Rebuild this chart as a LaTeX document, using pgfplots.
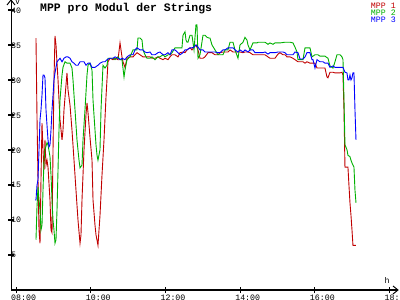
\documentclass[border=0pt]{standalone}
\usepackage{pgfplots}
\pgfplotsset{compat=1.18}
\usepackage{fontspec}
\setmonofont{Liberation Mono}
\definecolor{mppred}{RGB}{192,0,0}
\definecolor{mppgreen}{RGB}{0,176,0}
\definecolor{mppblue}{RGB}{0,0,255}
\definecolor{axk}{RGB}{2,2,2}
\begin{document}
\begin{tikzpicture}
\useasboundingbox (0,0) rectangle (400bp,300bp);
\begin{axis}[
  at={(11bp,10bp)}, anchor=south west,
  scale only axis, width=387bp, height=290bp,
  xmin=7.866, xmax=18.228, ymin=0, ymax=41.55,
  axis lines=left,
  axis line style={draw=axk, line width=1bp, -},
  xtick={8,10,12,14,16,18},
  xticklabels={08:00,10:00,12:00,14:00,16:00,18:00},
  ytick={5,10,15,20,25,30,35,40},
  tick align=center, major tick length=6bp,
  tick style={draw=axk, line width=1bp},
  /pgf/number format/assume math mode=true,
  tick label style={font=\ttfamily\fontsize{8.3}{8.3}\selectfont, inner sep=1bp},
  xticklabel style={anchor=north west, xshift=-6bp, yshift=-1bp},
  yticklabel style={anchor=west, xshift=2bp},
  every axis plot/.append style={line width=0.9bp, no markers},
]
\addplot[mppred] table {
8.535 36.1
8.562 24.8
8.589 15.8
8.616 8.6
8.643 6.7
8.669 15.8
8.696 23.9
8.723 20.1
8.750 17.2
8.776 21.5
8.803 17.9
8.830 18.6
8.857 17.6
8.910 12.9
8.937 8.6
8.964 8.2
8.991 20.1
9.017 30.1
9.044 36.4
9.071 35.1
9.098 32.5
9.125 30.1
9.178 24.4
9.232 21.5
9.258 22.9
9.285 25.8
9.339 29.4
9.365 31.1
9.392 28.7
9.446 26.5
9.499 22.9
9.553 18.6
9.606 14.3
9.660 10.0
9.714 6.7
9.740 7.9
9.767 12.9
9.821 20.1
9.874 25.1
9.901 26.8
9.928 25.4
9.981 21.9
10.035 18.6
10.062 12.9
10.115 9.3
10.142 7.9
10.195 6.4
10.249 10.7
10.303 16.5
10.356 21.5
10.410 27.7
10.463 32.7
10.517 33.2
10.597 33.0
10.651 33.2
10.731 33.0
10.785 35.4
10.838 33.4
10.865 32.7
10.918 31.9
10.972 33.2
11.052 33.4
11.133 33.4
11.186 33.7
11.240 34.0
11.320 33.7
11.400 33.4
11.507 33.4
11.588 33.4
11.641 33.2
11.722 33.2
11.802 33.4
11.855 33.2
11.936 33.0
11.989 33.2
12.070 33.0
12.123 33.4
12.177 33.7
12.257 33.7
12.337 33.4
12.391 34.0
12.471 34.1
12.525 34.0
12.578 34.4
12.659 34.7
12.712 34.4
12.766 34.8
12.819 35.1
12.873 34.4
12.926 33.2
13.007 33.2
13.060 33.4
13.141 34.0
13.194 34.0
13.248 34.0
13.328 33.7
13.408 33.7
13.462 34.0
13.542 34.1
13.596 34.1
13.676 34.1
13.730 34.4
13.810 34.1
13.864 34.1
13.944 34.1
13.997 34.1
14.078 34.0
14.131 34.1
14.212 34.1
14.265 34.0
14.345 33.7
14.399 33.7
14.479 33.7
14.533 33.7
14.613 33.7
14.667 33.7
14.747 33.4
14.801 33.2
14.881 33.2
14.934 33.2
15.015 33.8
15.068 34.0
15.149 33.7
15.202 33.7
15.256 33.4
15.336 33.4
15.416 33.2
15.470 33.0
15.550 32.7
15.604 32.7
15.684 32.7
15.738 32.5
15.791 32.7
15.871 32.5
15.925 32.5
16.005 32.5
16.059 31.8
16.139 31.8
16.193 31.8
16.273 31.8
16.327 30.5
16.353 30.4
16.407 31.2
16.487 31.2
16.541 31.1
16.594 31.1
16.675 31.1
16.728 31.2
16.755 30.8
16.782 25.8
16.808 17.6
16.862 17.6
16.888 17.6
16.915 15.0
16.942 12.5
16.969 10.7
16.996 8.6
17.022 6.4
17.103 6.4
};
\addplot[mppgreen] table {
8.535 7.2
8.562 11.9
8.589 14.8
8.616 12.9
8.643 11.5
8.669 8.6
8.696 9.3
8.723 14.3
8.750 18.6
8.776 20.1
8.830 21.1
8.857 20.8
8.910 19.1
8.937 16.5
8.964 12.9
8.991 10.0
9.017 8.6
9.044 6.7
9.071 7.2
9.098 11.5
9.125 17.2
9.151 22.9
9.178 27.2
9.232 30.8
9.258 31.9
9.312 32.7
9.365 32.5
9.446 32.5
9.499 31.8
9.526 30.1
9.580 25.8
9.633 21.5
9.687 18.6
9.714 17.5
9.767 17.9
9.794 21.5
9.847 25.8
9.901 30.8
9.928 32.2
9.981 32.5
10.035 31.5
10.062 27.2
10.115 22.9
10.142 20.8
10.169 19.3
10.195 18.6
10.249 20.1
10.276 25.8
10.329 32.2
10.383 31.8
10.436 32.2
10.463 33.2
10.517 33.2
10.597 33.2
10.651 33.0
10.731 33.4
10.785 33.0
10.838 33.0
10.892 30.5
10.918 31.5
10.972 33.0
11.052 33.4
11.133 34.4
11.240 34.4
11.266 36.1
11.320 36.1
11.374 35.8
11.400 34.4
11.454 33.7
11.507 33.2
11.588 33.2
11.641 33.4
11.722 33.0
11.802 33.4
11.855 33.4
11.936 33.7
11.989 33.4
12.070 33.7
12.123 33.7
12.177 34.0
12.257 34.7
12.337 34.7
12.391 34.7
12.444 34.7
12.471 36.5
12.525 37.0
12.552 35.8
12.578 35.5
12.605 35.5
12.659 36.5
12.712 36.5
12.766 34.4
12.819 38.0
12.846 38.0
12.873 33.2
12.926 33.7
13.007 36.5
13.060 36.5
13.114 36.2
13.167 36.1
13.194 36.1
13.248 35.1
13.328 34.4
13.408 33.7
13.462 33.7
13.542 33.7
13.596 34.4
13.676 34.4
13.730 35.5
13.810 35.5
13.864 34.4
13.944 33.2
13.997 35.1
14.078 35.5
14.131 36.2
14.185 35.8
14.212 35.1
14.265 34.4
14.345 35.4
14.453 35.4
14.479 35.5
14.667 35.5
14.747 35.2
14.801 35.4
14.881 35.2
14.934 35.4
15.068 35.4
15.202 35.5
15.336 35.5
15.416 35.4
15.470 34.8
15.523 34.1
15.550 33.0
15.684 33.0
15.738 34.7
15.871 34.7
15.925 33.4
16.005 33.7
16.086 33.7
16.139 33.5
16.273 33.5
16.353 33.2
16.407 32.1
16.487 31.8
16.541 32.7
16.594 33.7
16.675 33.7
16.728 33.4
16.755 33.0
16.782 27.2
16.808 20.8
16.862 20.1
16.888 19.3
16.942 19.1
16.969 18.6
16.996 18.2
17.049 17.6
17.076 14.3
17.103 12.5
};
\addplot[mppblue] table {
8.509 12.9
8.535 12.9
8.562 15.0
8.589 15.8
8.616 20.1
8.643 24.4
8.669 25.8
8.696 27.9
8.723 30.8
8.750 30.8
8.776 30.4
8.803 25.8
8.830 23.6
8.857 21.5
8.884 20.5
8.910 20.8
8.937 22.9
8.964 25.8
8.991 27.9
9.017 30.1
9.044 31.1
9.098 32.7
9.178 33.2
9.232 32.7
9.285 33.2
9.339 33.4
9.392 33.4
9.446 33.2
9.499 32.7
9.553 32.5
9.606 32.2
9.660 32.2
9.714 32.7
9.767 32.7
9.821 32.7
9.874 32.2
9.928 32.5
9.981 32.5
10.035 31.9
10.115 31.9
10.195 32.2
10.249 32.5
10.329 32.7
10.383 32.7
10.436 33.0
10.517 33.2
10.597 33.2
10.651 33.4
10.731 33.2
10.785 33.0
10.838 33.2
10.918 33.0
10.972 33.4
11.052 33.7
11.133 33.7
11.186 34.4
11.240 34.7
11.320 34.4
11.400 34.4
11.454 34.1
11.507 34.0
11.588 34.1
11.641 33.7
11.722 33.7
11.802 34.0
11.855 34.1
11.936 33.7
11.989 33.7
12.070 34.0
12.123 33.7
12.177 34.4
12.257 34.4
12.337 34.0
12.391 33.7
12.471 34.0
12.525 34.4
12.578 34.4
12.659 34.7
12.712 34.7
12.766 34.8
12.819 35.1
12.873 34.8
12.926 34.4
13.007 34.4
13.060 34.1
13.141 34.1
13.194 34.1
13.328 34.1
13.408 34.0
13.462 34.0
13.542 34.4
13.596 34.4
13.676 34.7
13.730 34.7
13.810 34.7
13.864 34.4
13.944 34.1
13.997 34.4
14.078 34.1
14.131 34.4
14.212 34.1
14.265 34.4
14.345 34.4
14.399 34.0
14.479 34.0
14.533 34.0
14.613 34.0
14.667 34.1
14.747 33.8
14.801 34.0
14.881 34.0
14.934 34.0
15.015 34.1
15.068 34.1
15.149 34.1
15.202 34.0
15.256 33.7
15.336 33.7
15.416 33.7
15.470 34.1
15.550 34.0
15.604 33.1
15.684 33.1
15.738 33.4
15.791 34.0
15.871 34.0
15.925 33.0
15.952 33.0
16.005 31.8
16.059 33.0
16.139 32.7
16.220 32.7
16.273 32.5
16.353 32.5
16.407 31.9
16.487 32.1
16.541 31.9
16.594 31.9
16.675 31.9
16.755 31.9
16.808 31.2
16.862 31.1
16.888 30.1
16.915 30.1
16.942 30.8
16.969 30.1
16.996 30.4
17.022 31.1
17.049 31.1
17.076 25.8
17.103 21.5
};
\node[anchor=north west, inner sep=0, font=\ttfamily\fontsize{8.3}{8.3}\selectfont] at (rel axis cs:0,1) [xshift=4bp, yshift=1.5bp] {V};
\node[anchor=south, inner sep=0, font=\ttfamily\fontsize{8.3}{8.3}\selectfont] at (rel axis cs:0.9716,0) [yshift=6bp] {h};
\end{axis}
\draw[axk, line width=1bp] (11bp,10bp) -- (398bp,10bp);
\draw[axk, line width=1bp] (11bp,10bp) -- (11bp,300bp);
\draw[axk, line width=1bp] (393bp,14bp) -- (398bp,10bp) -- (393bp,6bp);
\draw[axk, line width=1bp] (7bp,295bp) -- (11bp,300bp) -- (15bp,295bp);
\foreach \yy in {45,80,115,150,185,220,255,290}{
  \draw[axk, line width=1bp] (8bp,\yy bp) -- (14bp,\yy bp);
}
\foreach \xx in {16,90.7,165.4,240.1,314.8,389.5}{
  \draw[axk, line width=1bp] (\xx bp,7bp) -- (\xx bp,13bp);
}
\node[anchor=west, inner sep=0, font=\ttfamily\bfseries\fontsize{11.5}{11.5}\selectfont] at (40bp,291.5bp) {MPP pro Modul der Strings};
\node[anchor=north east, inner sep=0, text=mppred, font=\ttfamily\fontsize{8.3}{8.3}\selectfont] at (396bp,297bp) {MPP 1};
\node[anchor=north east, inner sep=0, text=mppgreen, font=\ttfamily\fontsize{8.3}{8.3}\selectfont] at (396bp,290bp) {MPP 2};
\node[anchor=north east, inner sep=0, text=mppblue, font=\ttfamily\fontsize{8.3}{8.3}\selectfont] at (396bp,283bp) {MPP 3};
\end{tikzpicture}
\end{document}
